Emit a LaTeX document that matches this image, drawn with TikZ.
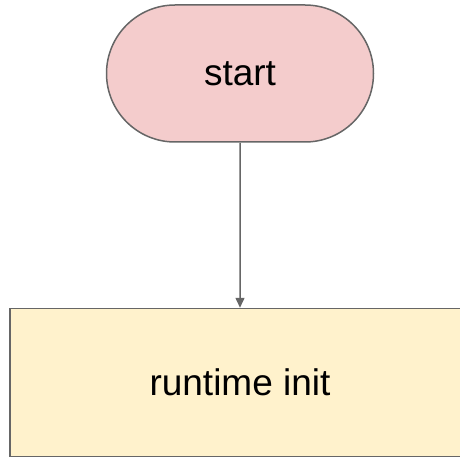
\documentclass[tikz,border=0pt]{standalone}
\usepackage{fontspec}
\setmainfont{Liberation Sans}
\usepackage{tikz}
\usetikzlibrary{positioning,arrows.meta,shapes.misc}
\definecolor{rosefill}{HTML}{F4CCCC}
\definecolor{creamfill}{HTML}{FFF2CC}
\definecolor{edgegray}{HTML}{666666}
\tikzset{
  startnode/.style={rounded rectangle, draw=edgegray, fill=rosefill, line width=1.5pt,
    minimum width=267pt, minimum height=137pt, inner sep=0pt, font=\fontsize{37}{40}\selectfont},
  initbox/.style={rectangle, draw=edgegray, fill=creamfill, line width=1.5pt,
    minimum width=460pt, minimum height=148pt, inner sep=0pt, font=\fontsize{37}{40}\selectfont},
  line/.style={draw=edgegray, line width=1.5pt, -{Triangle[length=10pt,width=9pt]}}
}
\begin{document}
\begin{tikzpicture}[x=1pt,y=-1pt]
  \useasboundingbox (0,0) rectangle (460,457);
  \clip (0,0) rectangle (460,457);

  \node[startnode] (start) at (240,73.5) {start};
  \node[initbox, below=165pt of start] (init) {runtime init};

  \path[line] (start) -- (init);
\end{tikzpicture}
\end{document}
